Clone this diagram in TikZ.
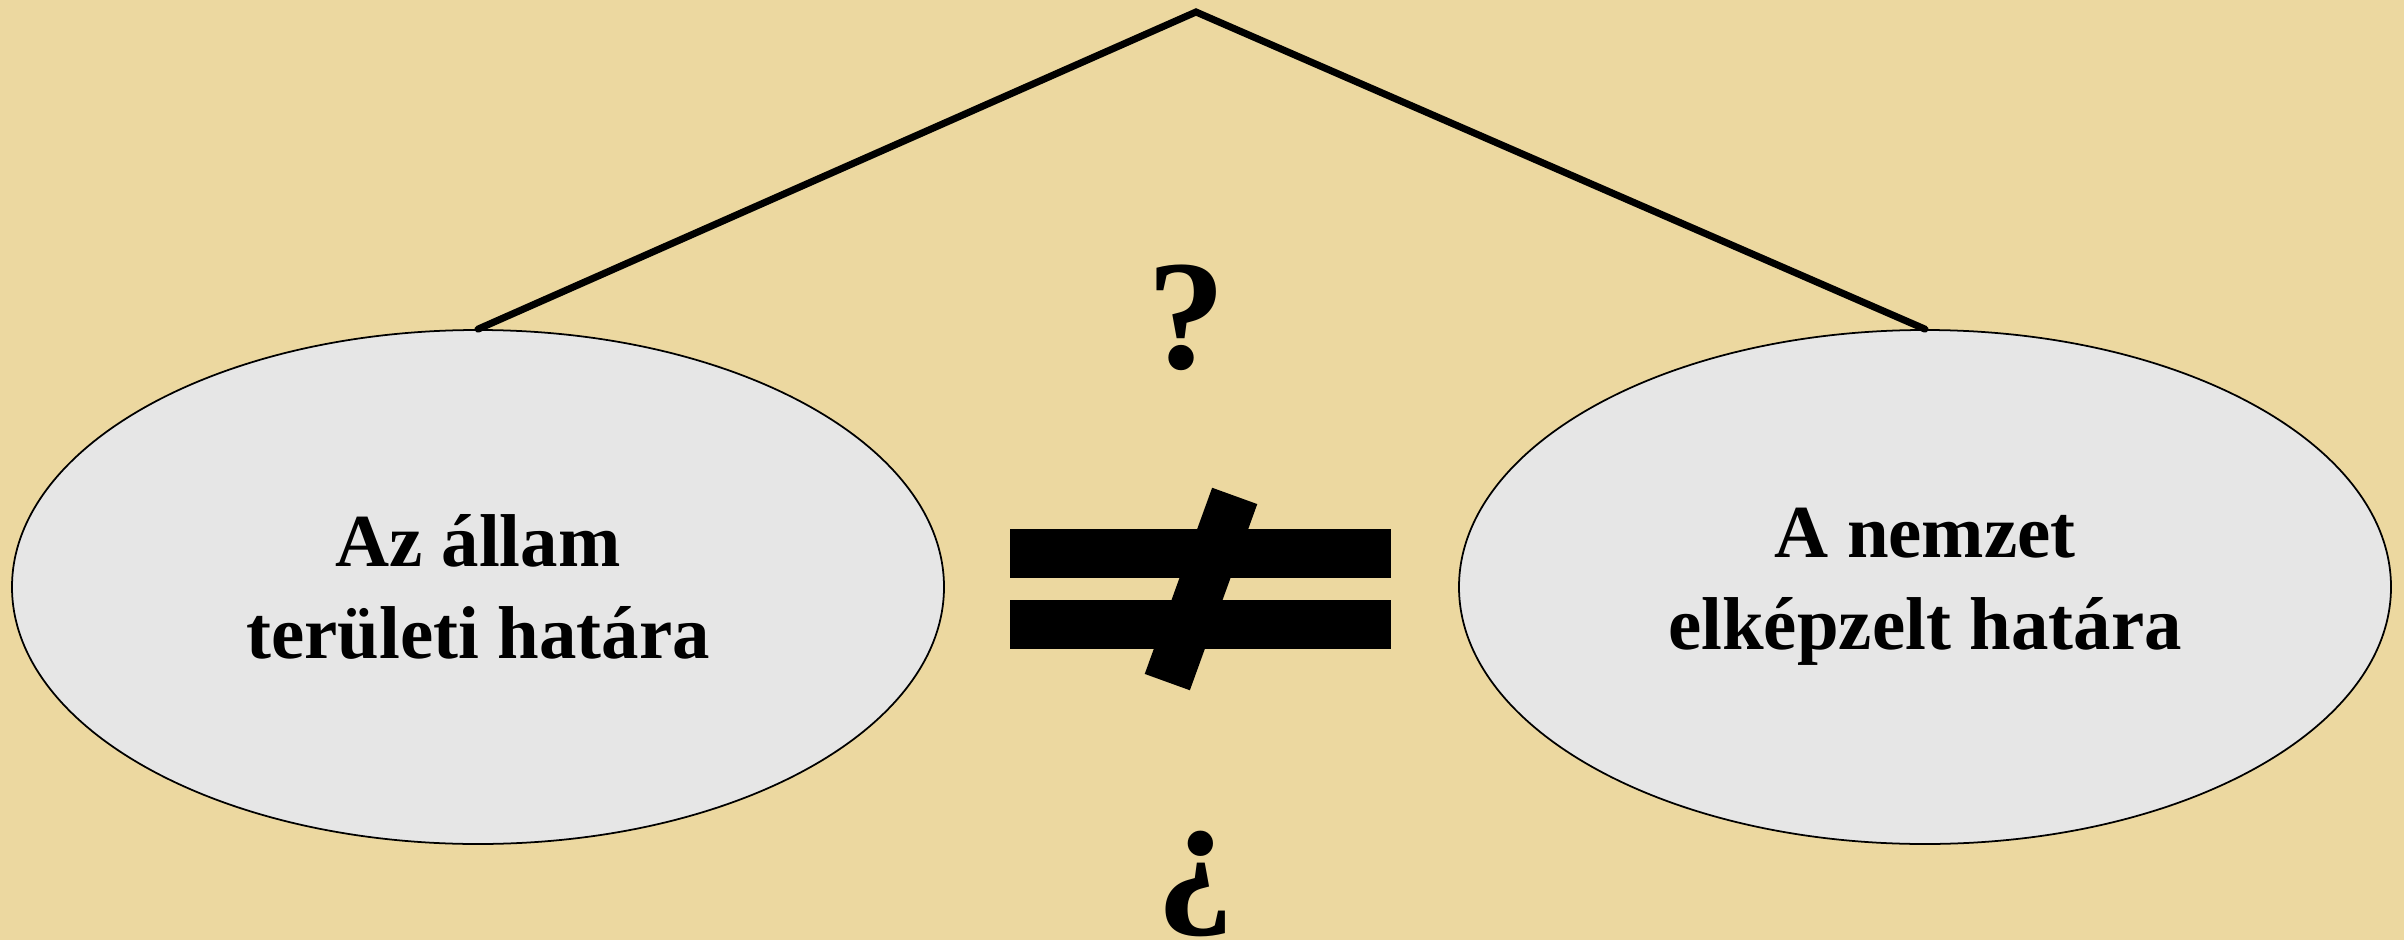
\documentclass[tikz,border=0pt]{standalone}
\usepackage{fontspec}
\setmainfont{Liberation Serif}
\usetikzlibrary{shapes.geometric,positioning}

\begin{document}
\begin{tikzpicture}[x=1cm,y=1cm]
\tikzset{
  paper/.style={fill={rgb,255:red,236;green,216;blue,160}},
  borderellipse/.style={ellipse,draw=black,line width=0.5pt,fill={rgb,255:red,230;green,230;blue,230},minimum width=9.32cm,minimum height=5.14cm,inner sep=0pt,align=center,font=\bfseries\fontsize{21.3}{26.3}\selectfont},
  linkline/.style={draw=black,line width=2pt,line cap=round,line join=miter},
  barbox/.style={rectangle,fill=black,inner sep=0pt,minimum width=3.81cm,minimum height=0.49cm},
  slashbox/.style={rectangle,fill=black,inner sep=0pt,minimum width=1.98cm,minimum height=0.48cm,rotate=70.1},
  bigmark/.style={inner sep=0pt,font=\bfseries\fontsize{44.5}{50}\selectfont}
}
\useasboundingbox (0,0) rectangle (24.04,9.4);
\fill[paper] (0,0) rectangle (24.04,9.4);
\node[borderellipse] (n_state) at (4.78,3.53) {Az állam\\területi határa};
\node[borderellipse] (n_nation) at (19.25,3.53) {A nemzet\\elképzelt határa};
\coordinate (n_top) at (11.96,9.28);
\node[barbox] (n_bar1) at (12.005,3.865) {};
\node[barbox] (n_bar2) at (12.005,3.155) {};
\node[slashbox] (n_slash) at (12.01,3.51) {};
\node[bigmark,anchor=base] (n_q) at (11.87,5.72) {?};
\node[bigmark,anchor=base] (n_iq) at (11.96,0.36) {¿};
\draw[linkline] (n_state.north) -- (n_top) -- (n_nation.north);
\end{tikzpicture}
\end{document}
